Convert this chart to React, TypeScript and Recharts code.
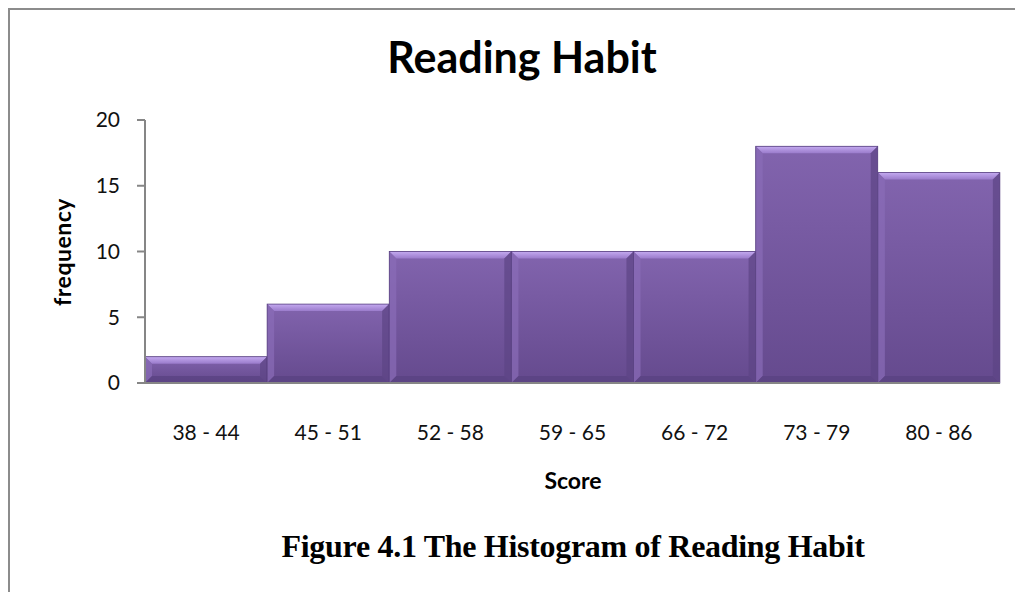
import React from 'react';
import { BarChart, Bar, XAxis, YAxis } from 'recharts';

const categories = ['38 - 44', '45 - 51', '52 - 58', '59 - 65', '66 - 72', '73 - 79', '80 - 86'];
const frequency = [2, 6, 10, 10, 10, 18, 16];
const yTicks = [0, 5, 10, 15, 20];

const data = categories.map((score, i) => ({ score, frequency: frequency[i] }));

const FONT = 'Lato, "Open Sans", sans-serif';
const AXIS = '#868686';

function BevelBar(props: any) {
  const { x, y, width, height } = props;
  if (!height || height <= 0) return null;
  const b = Math.min(7, height / 3);
  const r = x + width;
  const bt = y + height;
  return (
    <g>
      <rect x={x} y={y} width={width} height={height} fill="url(#barBody)" />
      {/* top bevel */}
      <polygon points={`${x},${y} ${r},${y} ${r - b},${y + b} ${x + b},${y + b}`} fill="url(#barTop)" />
      {/* left bevel */}
      <polygon points={`${x},${y} ${x + b},${y + b} ${x + b},${bt - b} ${x},${bt}`} fill="#8a6cb8" opacity={0.7} />
      {/* right bevel */}
      <polygon points={`${r},${y} ${r - b},${y + b} ${r - b},${bt - b} ${r},${bt}`} fill="#5d4485" opacity={0.7} />
      {/* bottom bevel */}
      <polygon points={`${x},${bt} ${x + b},${bt - b} ${r - b},${bt - b} ${r},${bt}`} fill="#5a4282" opacity={0.8} />
      <rect x={x} y={y} width={width} height={height} fill="none" stroke="#584080" strokeWidth={0.8} />
    </g>
  );
}

export default function App() {
  return (
    <div style={{ position: 'relative', width: 1015, height: 584, overflow: 'hidden', background: '#fff' }}>
      <div
        style={{
          position: 'absolute',
          left: 0,
          top: 0,
          width: 1015,
          height: 600,
          borderLeft: '2px solid #8c8c8c',
          borderTop: '2px solid #8c8c8c',
        }}
      />
      <div
        style={{
          position: 'absolute',
          left: 214,
          top: 27,
          width: 600,
          height: 43,
          lineHeight: '43px',
          textAlign: 'center',
          fontFamily: FONT,
          fontWeight: 700,
          fontSize: 43,
          color: '#000',
        }}
      >
        Reading Habit
      </div>
      <div style={{ position: 'absolute', left: 0, top: 0 }}>
        <BarChart
          width={1007}
          height={480}
          data={data}
          margin={{ top: 112, right: 15, left: 0, bottom: 45 }}
          barCategoryGap={0}
          barGap={0}
        >
          <defs>
            <linearGradient id="barBody" x1="0" y1="0" x2="0" y2="1">
              <stop offset="0%" stopColor="#8264ae" />
              <stop offset="100%" stopColor="#654a8e" />
            </linearGradient>
            <linearGradient id="barTop" x1="0" y1="0" x2="0" y2="1">
              <stop offset="0%" stopColor="#c4aaf0" />
              <stop offset="100%" stopColor="#9a7bcb" />
            </linearGradient>
          </defs>
          <XAxis
            dataKey="score"
            height={60}
            tickLine={false}
            tickSize={0}
            tickMargin={42}
            axisLine={{ stroke: AXIS, strokeWidth: 2 }}
            tick={{ fontSize: 21, fill: '#111', fontFamily: FONT }}
            interval={0}
          />
          <YAxis
            width={137}
            domain={[0, 20]}
            ticks={yTicks}
            tickSize={8}
            tickMargin={17}
            axisLine={{ stroke: AXIS, strokeWidth: 2 }}
            tickLine={{ stroke: AXIS, strokeWidth: 2 }}
            tick={{ fontSize: 21, fill: '#111', fontFamily: FONT }}
          />
          <Bar dataKey="frequency" shape={<BevelBar />} isAnimationActive={false} />
        </BarChart>
      </div>
      <div
        style={{
          position: 'absolute',
          left: 54 - 80,
          top: 244 - 12,
          width: 160,
          height: 24,
          lineHeight: '24px',
          textAlign: 'center',
          transform: 'rotate(-90deg)',
          fontFamily: FONT,
          fontWeight: 700,
          fontSize: 23,
          letterSpacing: 0.5,
          color: '#000',
        }}
      >
        frequency
      </div>
      <div
        style={{
          position: 'absolute',
          left: 565 - 80,
          top: 460,
          width: 160,
          height: 24,
          lineHeight: '24px',
          textAlign: 'center',
          fontFamily: FONT,
          fontWeight: 700,
          fontSize: 23,
          color: '#000',
        }}
      >
        Score
      </div>
      <div
        style={{
          position: 'absolute',
          left: 565 - 400,
          top: 520,
          width: 800,
          height: 36,
          lineHeight: '36px',
          textAlign: 'center',
          fontFamily: '"Liberation Serif", "Times New Roman", serif',
          fontWeight: 700,
          fontSize: 32,
          letterSpacing: -0.3,
          color: '#000',
        }}
      >
        Figure 4.1 The Histogram of Reading Habit
      </div>
    </div>
  );
}
